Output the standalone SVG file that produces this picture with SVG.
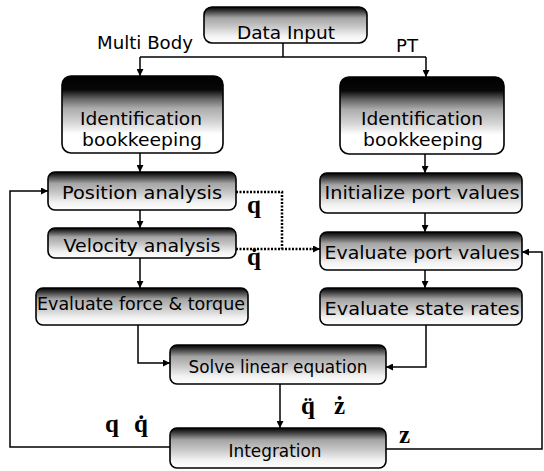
<svg xmlns="http://www.w3.org/2000/svg" width="544" height="471" viewBox="0 0 544 471">
<style>
.box{stroke:#000;stroke-width:1.6;fill:url(#g)}
.big{stroke:#000;stroke-width:1.6;fill:url(#gb)}
.t{font-family:"DejaVu Sans","Liberation Sans",sans-serif;font-size:17px;fill:#000;text-anchor:middle}
.lbl{font-family:"DejaVu Sans","Liberation Sans",sans-serif;font-size:18px;fill:#000;text-anchor:middle}
.m{font-family:"Liberation Serif","Times New Roman",serif;font-weight:bold;font-size:25px;fill:#000}
.ln{fill:none;stroke:#000;stroke-width:1.5}
.dot{fill:none;stroke:#000;stroke-width:2.5;stroke-dasharray:2 1.5}
</style>
<defs>
<linearGradient id="g" x1="0" y1="0" x2="0" y2="1">
<stop offset="0" stop-color="#000"/>
<stop offset="0.1" stop-color="#333"/>
<stop offset="0.3" stop-color="#a4a4a4"/>
<stop offset="0.55" stop-color="#c8c8c8"/>
<stop offset="0.8" stop-color="#f2f2f2"/>
<stop offset="1" stop-color="#fff"/>
</linearGradient>
<linearGradient id="gb" x1="0" y1="0" x2="0" y2="1">
<stop offset="0" stop-color="#000"/>
<stop offset="0.18" stop-color="#080808"/>
<stop offset="0.3" stop-color="#666"/>
<stop offset="0.42" stop-color="#ababab"/>
<stop offset="0.6" stop-color="#d4d4d4"/>
<stop offset="0.75" stop-color="#fff"/>
</linearGradient>
<marker id="ah" viewBox="0 0 10 10" refX="10" refY="5" markerWidth="7" markerHeight="7" markerUnits="userSpaceOnUse" orient="auto">
<path d="M0,0 L10,5 L0,10 z" fill="#000"/>
</marker>
</defs>

<g id="connectors">
<path class="ln" d="M283,43 V57"/>
<path class="ln" d="M140,57 H426"/>
<path class="ln" d="M140,57 V76" marker-end="url(#ah)"/>
<path class="ln" d="M426,57 V77" marker-end="url(#ah)"/>
<path class="ln" d="M140,153 V172" marker-end="url(#ah)"/>
<path class="ln" d="M140,210 V228" marker-end="url(#ah)"/>
<path class="ln" d="M140,258 V288" marker-end="url(#ah)"/>
<path class="ln" d="M138,325 V363 H170" marker-end="url(#ah)"/>
<path class="ln" d="M425,154 V173" marker-end="url(#ah)"/>
<path class="ln" d="M425,213 V232" marker-end="url(#ah)"/>
<path class="ln" d="M425,270 V288" marker-end="url(#ah)"/>
<path class="ln" d="M426,325 V367 H386" marker-end="url(#ah)"/>
<path class="ln" d="M280,384 V428" marker-end="url(#ah)"/>
<path class="ln" d="M170,447 H10 V191 H48" marker-end="url(#ah)"/>
<path class="ln" d="M386,449 H542 V252 H522" marker-end="url(#ah)"/>
<path class="dot" d="M236,192 H282 V249"/>
<path class="dot" d="M236,249 H314"/>
<path class="ln" d="M312,249 H320" marker-end="url(#ah)"/>
</g>

<g id="data-input">
<rect class="box" x="204" y="7" width="163" height="36" rx="8"/>
<text class="t" x="286" y="39" textLength="98" lengthAdjust="spacingAndGlyphs">Data Input</text>
</g>
<text class="lbl" x="145" y="49" textLength="96" lengthAdjust="spacingAndGlyphs">Multi Body</text>
<text class="lbl" x="407" y="52" textLength="22" lengthAdjust="spacingAndGlyphs">PT</text>

<g id="ident-mb">
<rect class="big" x="62" y="76" width="161" height="77" rx="9"/>
<text class="t" x="141" y="125" textLength="122" lengthAdjust="spacingAndGlyphs">Identification</text>
<text class="t" x="142" y="146" textLength="120" lengthAdjust="spacingAndGlyphs">bookkeeping</text>
</g>
<g id="ident-pt">
<rect class="big" x="340" y="77" width="164" height="77" rx="9"/>
<text class="t" x="422" y="125" textLength="122" lengthAdjust="spacingAndGlyphs">Identification</text>
<text class="t" x="423" y="146" textLength="120" lengthAdjust="spacingAndGlyphs">bookkeeping</text>
</g>

<g id="position">
<rect class="box" x="48" y="172" width="188" height="38" rx="7"/>
<text class="t" x="142" y="199" textLength="160" lengthAdjust="spacingAndGlyphs">Position analysis</text>
</g>
<g id="velocity">
<rect class="box" x="48" y="228" width="188" height="30" rx="7"/>
<text class="t" x="142" y="252" textLength="157" lengthAdjust="spacingAndGlyphs">Velocity analysis</text>
</g>
<g id="force">
<rect class="box" x="36" y="288" width="212" height="37" rx="7"/>
<text class="t" x="141" y="310" textLength="208" lengthAdjust="spacingAndGlyphs">Evaluate force &amp; torque</text>
</g>

<g id="init-port">
<rect class="box" x="320" y="173" width="202" height="40" rx="7"/>
<text class="t" x="422" y="199" textLength="195" lengthAdjust="spacingAndGlyphs">Initialize port values</text>
</g>
<g id="eval-port">
<rect class="box" x="320" y="232" width="202" height="38" rx="7"/>
<text class="t" x="422" y="259" textLength="195" lengthAdjust="spacingAndGlyphs">Evaluate port values</text>
</g>
<g id="eval-state">
<rect class="box" x="320" y="288" width="202" height="37" rx="7"/>
<text class="t" x="422" y="315" textLength="195" lengthAdjust="spacingAndGlyphs">Evaluate state rates</text>
</g>

<g id="solve">
<rect class="box" x="170" y="345" width="216" height="39" rx="7"/>
<text class="t" x="278" y="373" font-size="16" textLength="179" lengthAdjust="spacingAndGlyphs">Solve linear equation</text>
</g>
<g id="integration">
<rect class="box" x="170" y="428" width="216" height="40" rx="7"/>
<text class="t" x="275" y="457" textLength="93" lengthAdjust="spacingAndGlyphs">Integration</text>
</g>

<g id="labels">
<text class="m" x="247" y="213">q</text>
<text class="m" x="247" y="265">q̇</text>
<text class="m" x="105" y="432" font-size="24">q</text>
<text class="m" x="134" y="432" font-size="24">q̇</text>
<text class="m" x="301" y="414">q̈</text>
<text class="m" x="334" y="414">ż</text>
<text class="m" x="399" y="443">z</text>
</g>
</svg>
